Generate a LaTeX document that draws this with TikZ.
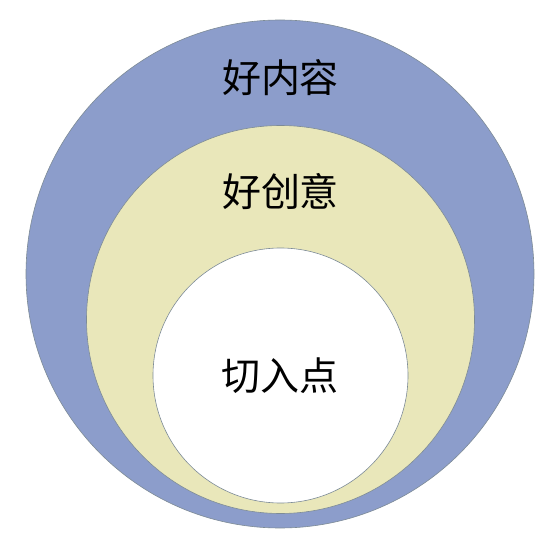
\documentclass[tikz,border=0pt]{standalone}
\usepackage{fontspec}
\newfontfamily\cjk{Noto Sans CJK SC}
\definecolor{outerblue}{HTML}{8C9DCB}
\definecolor{midyellow}{HTML}{E9E7BA}
\definecolor{edgegray}{HTML}{7D8B96}
\begin{document}
\begin{tikzpicture}[x=1pt,y=-1pt,
  ring/.style={draw=edgegray, line width=0.6pt},
  lbl/.style={font=\cjk\fontsize{39}{42}\selectfont, text=black, inner sep=0pt}]
\useasboundingbox[fill=white] (0,0) rectangle (558,551);
\fill[outerblue, ring] (280,274) circle (254);
\fill[midyellow, ring] (280.5,319.5) circle (194);
\fill[white, ring] (280.5,375.5) circle (127.5);
\node[lbl] (outer) at (280.5,78) {好内容};
\node[lbl] (mid) at (280.5,192) {好创意};
\node[lbl] (inner) at (280,376) {切入点};
\end{tikzpicture}
\end{document}
